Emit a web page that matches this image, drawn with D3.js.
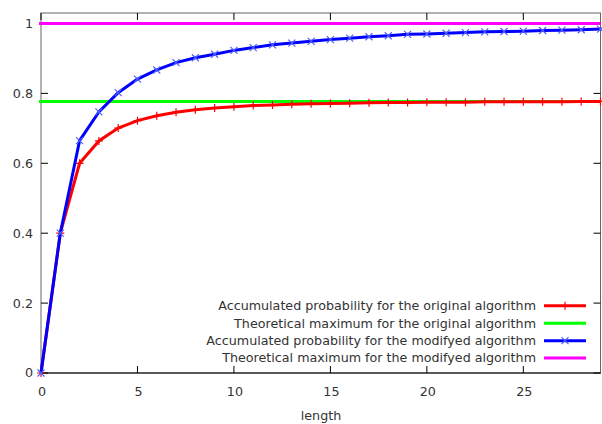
<!DOCTYPE html>
<html><head><meta charset="utf-8">
<script src="https://cdn.jsdelivr.net/npm/d3@7"></script>
<style>body{margin:0;background:#fff}svg{display:block}text{font-family:"DejaVu Sans",sans-serif;}</style>
</head><body><svg id="c" width="602" height="424"></svg>
<script>
const lengths = d3.range(0, 30);
const originalProb = [0,0.4,0.6,0.664,0.701,0.722,0.736,0.746,0.753,0.758,0.762,0.765,0.767,0.769,0.770,0.771,0.772,0.773,0.774,0.774,0.775,0.775,0.775,0.776,0.776,0.776,0.776,0.776,0.777,0.777];
const modifiedProb = [0,0.4,0.665,0.747,0.802,0.841,0.867,0.888,0.902,0.912,0.923,0.931,0.939,0.944,0.949,0.954,0.958,0.962,0.965,0.969,0.970,0.972,0.974,0.976,0.977,0.978,0.980,0.981,0.982,0.984];
const originalMax = 0.777;
const modifiedMax = 1.0;
const xTicks = [0,5,10,15,20,25];
const yTicks = [0,0.2,0.4,0.6,0.8,1];
const yTickLabels = ["0","0.2","0.4","0.6","0.8","1"];
const legendLabels = ["Accumulated probability for the original algorithm","Theoretical maximum for the original algorithm","Accumulated probability for the modifyed algorithm","Theoretical maximum for the modifyed algorithm"];
const colors = ["#ff0000","#00ff00","#0000ff","#ff00ff"];

const svg = d3.select("#c");
const L=41, R=600.5, T=13, B=373;
const FS=12.7, TC="#333";
const x = d3.scaleLinear().domain([0,29]).range([L,R]);
const y = d3.scaleLinear().domain([0,1.03]).range([B,T]);

// border
svg.append("rect").attr("x",L).attr("y",T).attr("width",R-L).attr("height",B-T).attr("fill","none").attr("stroke","#666").attr("stroke-width",1);
svg.append("line").attr("x1",L).attr("x2",R).attr("y1",B).attr("y2",B).attr("stroke","#000");

const tl=7;
yTicks.forEach((v,i)=>{
  svg.append("line").attr("x1",L).attr("x2",L+tl).attr("y1",y(v)).attr("y2",y(v)).attr("stroke","#000");
  svg.append("line").attr("x1",R-tl).attr("x2",R).attr("y1",y(v)).attr("y2",y(v)).attr("stroke","#000");
  svg.append("text").attr("x",33).attr("y",y(v)).attr("dy","0.35em").attr("text-anchor","end").attr("font-size",FS).attr("fill",TC).text(yTickLabels[i]);
});
xTicks.forEach(v=>{
  svg.append("line").attr("x1",x(v)).attr("x2",x(v)).attr("y1",B).attr("y2",B-tl).attr("stroke","#000");
  svg.append("line").attr("x1",x(v)).attr("x2",x(v)).attr("y1",T).attr("y2",T+tl).attr("stroke","#000");
  svg.append("text").attr("x",x(v)+1).attr("y",392).attr("dy","0.35em").attr("text-anchor","middle").attr("font-size",FS).attr("fill",TC).text(String(v));
});
svg.append("text").attr("x",321).attr("y",416).attr("dy","0.35em").attr("text-anchor","middle").attr("font-size",FS).attr("fill",TC).text("length");

const g = svg.append("g");
const line = d3.line().x((d,i)=>x(lengths[i])).y(d=>y(d));
g.append("line").attr("x1",x(0)-2).attr("x2",R).attr("y1",y(originalMax)).attr("y2",y(originalMax)).attr("stroke",colors[1]).attr("stroke-width",3);
g.append("line").attr("x1",x(0)-2).attr("x2",R).attr("y1",y(modifiedMax)).attr("y2",y(modifiedMax)).attr("stroke",colors[3]).attr("stroke-width",3);

function plus(sel,cx,cy,c){sel.append("path").attr("d",`M${cx-4},${cy}H${cx+4}M${cx},${cy-4}V${cy+4}`).attr("stroke",c).attr("stroke-width",1.2).attr("fill","none");}
function cross(sel,cx,cy,c){sel.append("path").attr("d",`M${cx-3.5},${cy-3.5}L${cx+3.5},${cy+3.5}M${cx-3.5},${cy+3.5}L${cx+3.5},${cy-3.5}`).attr("stroke",c).attr("stroke-width",1.2).attr("fill","none");}

g.append("path").datum(originalProb).attr("d",line).attr("fill","none").attr("stroke",colors[0]).attr("stroke-width",3);
originalProb.forEach((v,i)=>plus(g,x(lengths[i]),y(v),colors[0]));
g.append("path").datum(modifiedProb).attr("d",line).attr("fill","none").attr("stroke",colors[2]).attr("stroke-width",3);
modifiedProb.forEach((v,i)=>cross(g,x(lengths[i]),y(v),"#5060ff"));

const ly=[305.7,323.3,340.7,358];
legendLabels.forEach((t,i)=>{
  svg.append("text").attr("x",536).attr("y",ly[i]).attr("dy","0.35em").attr("text-anchor","end").attr("font-size",FS).attr("fill",TC).text(t);
  svg.append("line").attr("x1",544).attr("x2",586).attr("y1",ly[i]).attr("y2",ly[i]).attr("stroke",colors[i]).attr("stroke-width",3);
  if(i===0) plus(svg,565,ly[i],colors[0]);
  if(i===2) cross(svg,565,ly[i],"#5060ff");
});
</script></body></html>
